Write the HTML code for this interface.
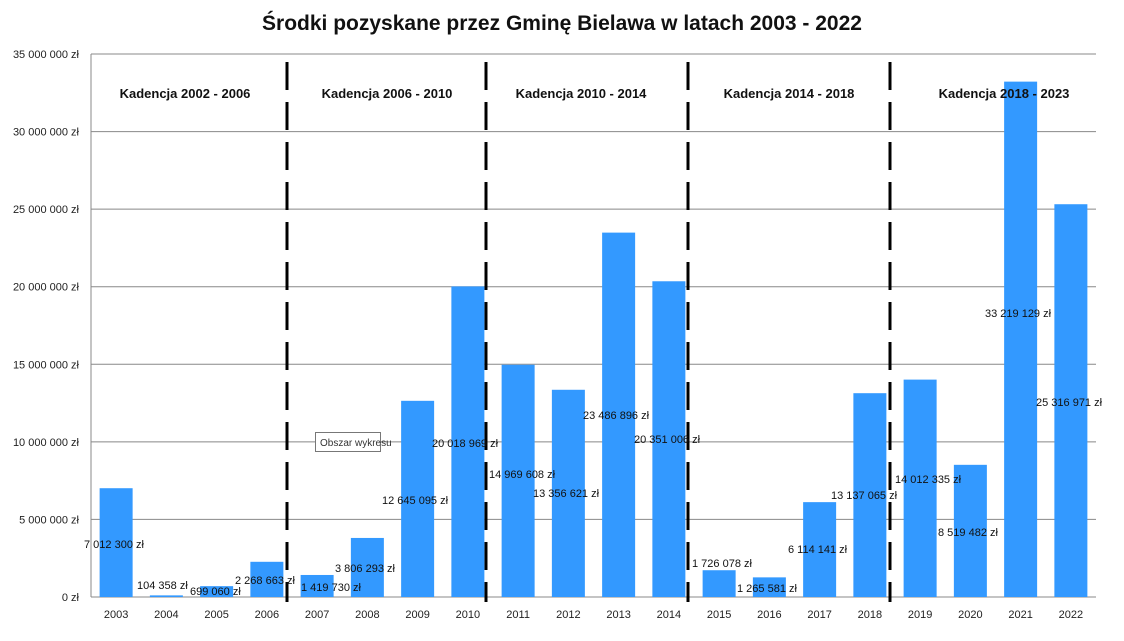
<!DOCTYPE html>
<html><head><meta charset="utf-8"><style>
body{margin:0;background:#fff;width:1124px;height:636px;overflow:hidden}
svg text{font-family:"Liberation Sans",sans-serif}
</style></head><body>
<svg id="s" width="1124" height="636" xmlns="http://www.w3.org/2000/svg"></svg>
<script>
(function(){
const s=document.getElementById('s');let h='';
const y0=597,yTop=54,X0=91,X1=1096,pw=(X1-X0)/20;
const Y=v=>y0-v/35e6*(y0-yTop);
h+=`<text x="562" y="30" font-size="21" font-weight="bold" text-anchor="middle" fill="#111">Środki pozyskane przez Gminę Bielawa w latach 2003 - 2022</text>`;
for(let i=0;i<=7;i++){const y=Y(i*5e6);h+=`<line x1="${X0}" x2="${X1}" y1="${y}" y2="${y}" stroke="#888" stroke-width="1"/>`;
const lab=i==0?'0 zł':(i*5)+' 000 000 zł';h+=`<text x="79" y="${y+4}" font-size="11" text-anchor="end" fill="#222">${lab}</text>`;}
h+=`<line x1="${X0}" x2="${X0}" y1="${yTop}" y2="${y0}" stroke="#888"/>`;
const vals=[7012300,104358,699060,2268663,1419730,3806293,12645095,20018969,14969608,13356621,23486896,20351006,1726078,1265581,6114141,13137065,14012335,8519482,33219129,25316971];
const labs=[[84,548],[137,589],[190,595],[235,584],[301,591],[335,572],[382,504],[432,447],[489,478],[533,497],[583,419],[634,443],[692,567],[737,592],[788,553],[831,499],[895,483],[938,536],[985,317],[1036,406]];
vals.forEach((v,i)=>{const cx=X0+pw*(i+0.5);const y=Y(v);
h+=`<rect x="${cx-16.5}" y="${y}" width="33" height="${y0-y}" fill="#3399ff"/>`;
h+=`<text x="${cx}" y="618" font-size="11" text-anchor="middle" fill="#222">${2003+i}</text>`;});
[287,486,688,890].forEach(x=>{h+=`<line x1="${x}" x2="${x}" y1="62" y2="602" stroke="#000" stroke-width="3" stroke-dasharray="28,12"/>`;});
vals.forEach((v,i)=>{const t=v.toString().replace(/\B(?=(\d{3})+(?!\d))/g,' ')+' zł';h+=`<text x="${labs[i][0]}" y="${labs[i][1]}" font-size="11" fill="#111">${t}</text>`;});
[[185,'2002 - 2006'],[387,'2006 - 2010'],[581,'2010 - 2014'],[789,'2014 - 2018'],[1004,'2018 - 2023']].forEach(([x,t])=>{h+=`<text x="${x}" y="98" font-size="13" font-weight="bold" text-anchor="middle" fill="#111">Kadencja ${t}</text>`;});
h+=`<rect x="315.5" y="432.5" width="65" height="19" fill="#fff" stroke="#777"/><text x="320" y="446" font-size="10" fill="#333">Obszar wykresu</text>`;
s.innerHTML=h;
})();
</script>
</body></html>
